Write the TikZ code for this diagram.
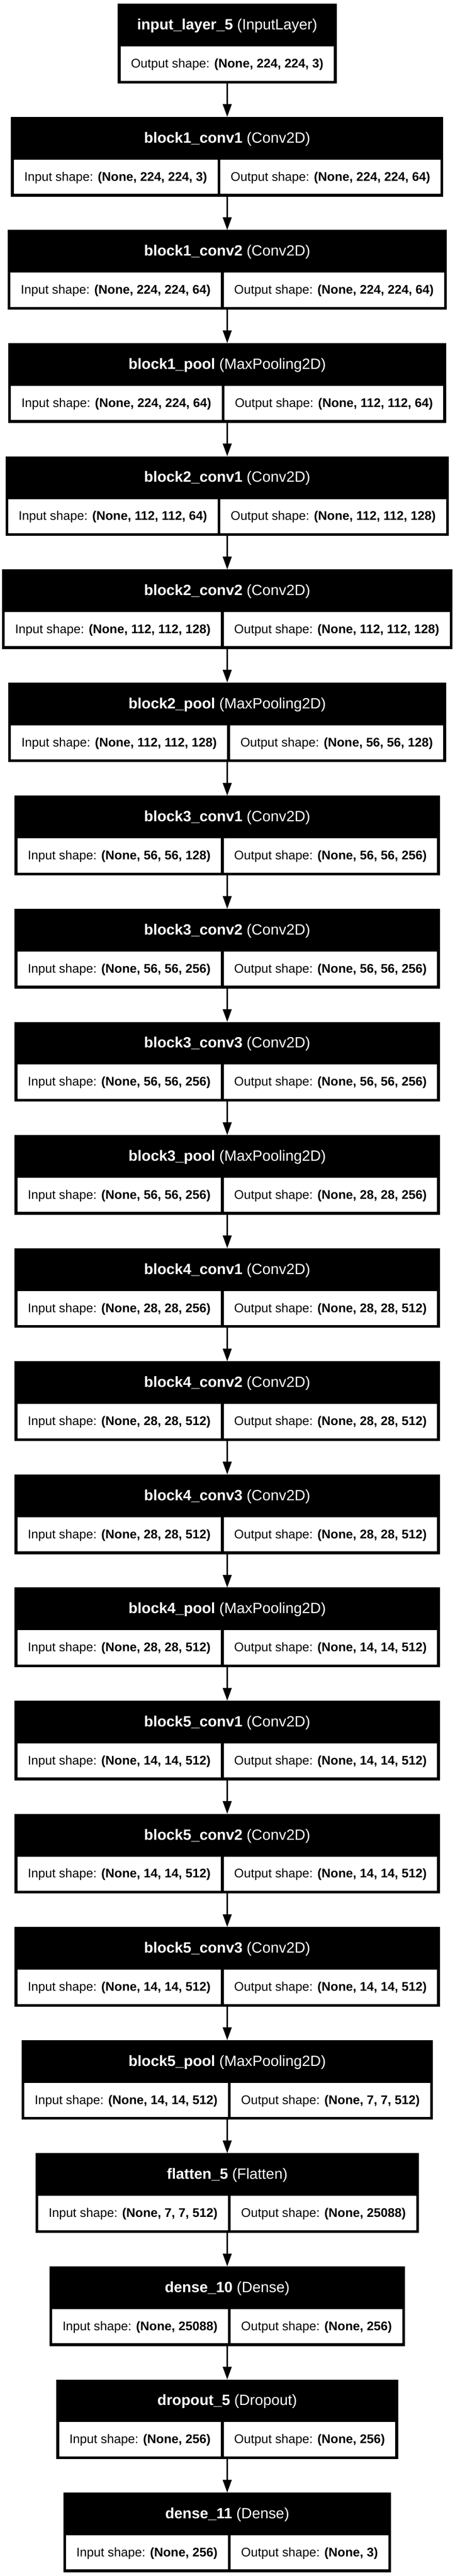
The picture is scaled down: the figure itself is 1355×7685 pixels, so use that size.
\documentclass[tikz,border=0pt]{standalone}
\usepackage{fontspec}
\setmainfont{Liberation Sans}
\usetikzlibrary{arrows.meta,fit}
\pgfdeclarelayer{paper}
\pgfdeclarelayer{boxes}
\pgfsetlayers{paper,boxes,main}
\newcommand\lyheadfont{\fontsize{44.3}{53}\selectfont}
\newcommand\lycellfont{\fontsize{37.3}{45}\selectfont}
\tikzset{
  layerfit/.style={fill=black, draw=none, inner xsep=8.3pt, inner ysep=0pt, outer sep=0pt},
  headtext/.style={text=white, font=\lyheadfont, inner sep=0pt, anchor=base},
  cellbox/.style={fill=white, draw=none, inner xsep=31pt, inner ysep=0pt, outer sep=0pt,
    minimum height=102pt, font=\lycellfont, text=black, text height=30pt, text depth=4.8pt},
  conn/.style={draw=black, line width=5pt, -{Triangle[length=38pt,width=26pt]}},
}
% two-cell layer: name, index, layer, type, input shape, output shape
\newcommand\lyTwo[6]{%
  \pgfmathsetmacro\lyT{11.2+337.5*(#2-1)}%
  \coordinate (#1-top) at (677,\lyT);
  \coordinate (#1-bot) at (677,\lyT+237.7);
  \matrix (#1-row) [matrix anchor=north, column sep=8.4pt, inner sep=0pt, outer sep=0pt,
     ampersand replacement=\&] at (677,\lyT+127.4) {
    \node[cellbox] (#1-in) {Input shape: \textbf{#5}}; \&
    \node[cellbox] (#1-out) {Output shape: \textbf{#6}}; \\
  };
  \begin{pgfonlayer}{boxes}
    \node[layerfit, fit=(#1-top)(#1-bot)(#1-row)] (#1) {};
  \end{pgfonlayer}
  \node[headtext] (#1-head) at (677,\lyT+77.4) {\textbf{#3} (#4)};
}
% one-cell layer: name, index, layer, type, output shape
\newcommand\lyOne[5]{%
  \pgfmathsetmacro\lyT{11.2+337.5*(#2-1)}%
  \coordinate (#1-top) at (677,\lyT);
  \coordinate (#1-bot) at (677,\lyT+237.7);
  \node[cellbox, anchor=north] (#1-out) at (677,\lyT+127.4) {Output shape: \textbf{#5}};
  \begin{pgfonlayer}{boxes}
    \node[layerfit, fit=(#1-top)(#1-bot)(#1-out)] (#1) {};
  \end{pgfonlayer}
  \node[headtext] (#1-head) at (677,\lyT+77.4) {\textbf{#3} (#4)};
}
\begin{document}
\begin{tikzpicture}[x=1pt,y=-1pt]
\begin{pgfonlayer}{paper}
\fill[white] (0,0) rectangle (1355,7685);
\end{pgfonlayer}
\useasboundingbox (0,0) rectangle (1355,7685);
\lyOne{L1}{1}{input\_layer\_5}{InputLayer}{(None, 224, 224, 3)}
\lyTwo{L2}{2}{block1\_conv1}{Conv2D}{(None, 224, 224, 3)}{(None, 224, 224, 64)}
\lyTwo{L3}{3}{block1\_conv2}{Conv2D}{(None, 224, 224, 64)}{(None, 224, 224, 64)}
\lyTwo{L4}{4}{block1\_pool}{MaxPooling2D}{(None, 224, 224, 64)}{(None, 112, 112, 64)}
\lyTwo{L5}{5}{block2\_conv1}{Conv2D}{(None, 112, 112, 64)}{(None, 112, 112, 128)}
\lyTwo{L6}{6}{block2\_conv2}{Conv2D}{(None, 112, 112, 128)}{(None, 112, 112, 128)}
\lyTwo{L7}{7}{block2\_pool}{MaxPooling2D}{(None, 112, 112, 128)}{(None, 56, 56, 128)}
\lyTwo{L8}{8}{block3\_conv1}{Conv2D}{(None, 56, 56, 128)}{(None, 56, 56, 256)}
\lyTwo{L9}{9}{block3\_conv2}{Conv2D}{(None, 56, 56, 256)}{(None, 56, 56, 256)}
\lyTwo{L10}{10}{block3\_conv3}{Conv2D}{(None, 56, 56, 256)}{(None, 56, 56, 256)}
\lyTwo{L11}{11}{block3\_pool}{MaxPooling2D}{(None, 56, 56, 256)}{(None, 28, 28, 256)}
\lyTwo{L12}{12}{block4\_conv1}{Conv2D}{(None, 28, 28, 256)}{(None, 28, 28, 512)}
\lyTwo{L13}{13}{block4\_conv2}{Conv2D}{(None, 28, 28, 512)}{(None, 28, 28, 512)}
\lyTwo{L14}{14}{block4\_conv3}{Conv2D}{(None, 28, 28, 512)}{(None, 28, 28, 512)}
\lyTwo{L15}{15}{block4\_pool}{MaxPooling2D}{(None, 28, 28, 512)}{(None, 14, 14, 512)}
\lyTwo{L16}{16}{block5\_conv1}{Conv2D}{(None, 14, 14, 512)}{(None, 14, 14, 512)}
\lyTwo{L17}{17}{block5\_conv2}{Conv2D}{(None, 14, 14, 512)}{(None, 14, 14, 512)}
\lyTwo{L18}{18}{block5\_conv3}{Conv2D}{(None, 14, 14, 512)}{(None, 14, 14, 512)}
\lyTwo{L19}{19}{block5\_pool}{MaxPooling2D}{(None, 14, 14, 512)}{(None, 7, 7, 512)}
\lyTwo{L20}{20}{flatten\_5}{Flatten}{(None, 7, 7, 512)}{(None, 25088)}
\lyTwo{L21}{21}{dense\_10}{Dense}{(None, 25088)}{(None, 256)}
\lyTwo{L22}{22}{dropout\_5}{Dropout}{(None, 256)}{(None, 256)}
\lyTwo{L23}{23}{dense\_11}{Dense}{(None, 256)}{(None, 3)}
\foreach \i [evaluate=\i as \j using int(\i+1)] in {1,...,22}
  \draw[conn] (L\i.south) -- (L\j.north);
\end{tikzpicture}
\end{document}
